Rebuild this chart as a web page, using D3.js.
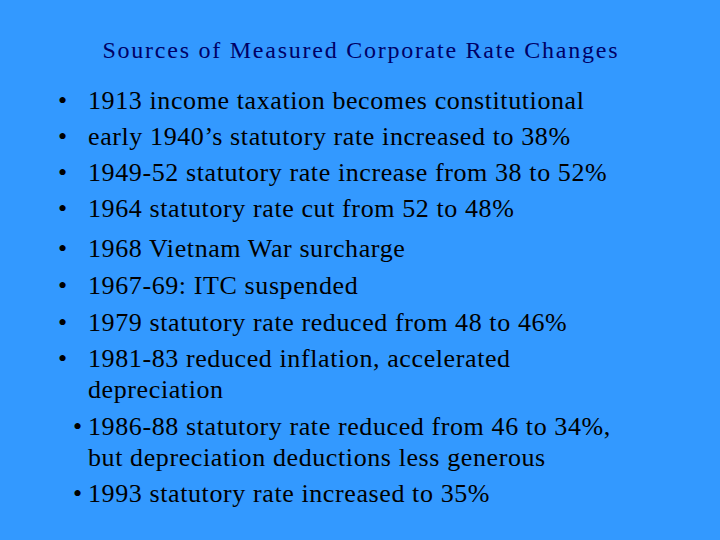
<!DOCTYPE html>
<meta charset="utf-8" />
<html>
<head>
  <script src="https://d3js.org/d3.v7.min.js"></script>
  <style>
    body { margin: 0; background: #3399ff; }
  </style>
</head>
<body>
<div id="slide"></div>
<script>
  const title = "Sources of Measured Corporate Rate Changes";

  // each item: lines of text
  const items = [
    ["1913 income taxation becomes constitutional"],
    ["early 1940\u2019s statutory rate increased to 38%"],
    ["1949-52 statutory rate increase from 38 to 52%"],
    ["1964 statutory rate cut from 52 to 48%"],
    ["1968 Vietnam War surcharge"],
    ["1967-69: ITC suspended"],
    ["1979 statutory rate reduced from 48 to 46%"],
    ["1981-83 reduced inflation, accelerated", "depreciation"],
    ["1986-88 statutory rate reduced from 46 to 34%,", "but depreciation deductions less generous"],
    ["1993 statutory rate increased to 35%"]
  ];
  const bulletX = [58, 58, 58, 58, 58, 58, 58, 58, 73, 73];
  const itemY = [103, 139, 175, 211, 251, 288, 325, 361, 429, 496];

  const width = 720, height = 540;
  const svg = d3.select("#slide").append("svg")
    .attr("width", width).attr("height", height)
    .style("font-family", "'Liberation Serif', 'Times New Roman', serif");

  svg.append("rect").attr("width", width).attr("height", height).attr("fill", "#3399ff");

  svg.append("text")
    .attr("x", 360).attr("y", 52)
    .attr("text-anchor", "middle")
    .attr("dominant-baseline", "middle")
    .attr("fill", "#000066")
    .style("font-size", "24px")
    .attr("textLength", 515)
    .text(title);

  const g = svg.selectAll("g.item").data(items).enter().append("g").attr("class", "item");

  g.append("text")
    .attr("x", (d, i) => bulletX[i])
    .attr("y", (d, i) => itemY[i])
    .attr("dominant-baseline", "middle")
    .style("font-size", "26px")
    .text("\u2022");

  g.selectAll("text.line").data((d, i) => d.map((t, j) => ({ t, y: itemY[i] + j * 31 })))
    .enter().append("text").attr("class", "line")
    .attr("x", 88)
    .attr("y", d => d.y)
    .attr("dominant-baseline", "middle")
    .style("font-size", "26px")
    .style("letter-spacing", "0.6px")
    .text(d => d.t);
</script>
</body>
</html>
